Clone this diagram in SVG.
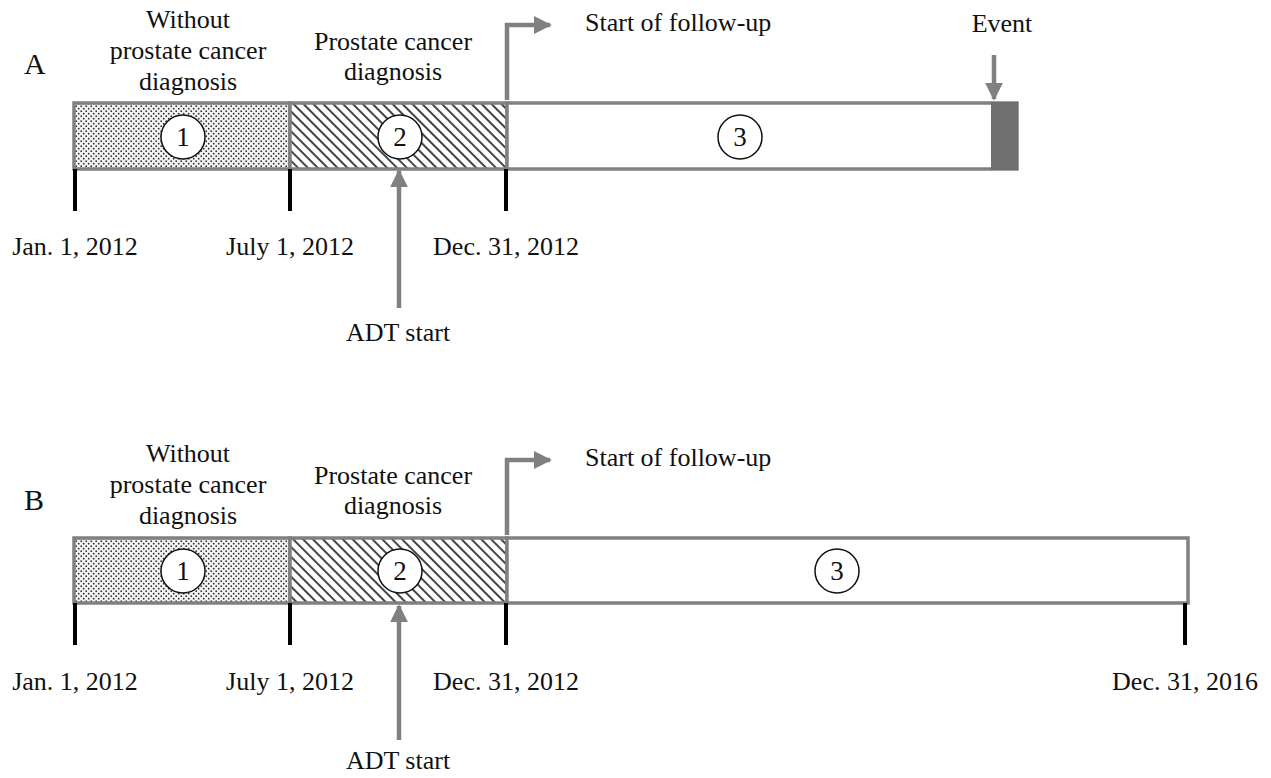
<svg xmlns="http://www.w3.org/2000/svg" width="1271" height="778" viewBox="0 0 1271 778">
<defs>
<pattern id="dots" width="5" height="5" patternUnits="userSpaceOnUse">
<rect width="5" height="5" fill="#f2f2f2"/>
<circle cx="1.2" cy="1.2" r="0.85" fill="#2a2a2a"/>
<circle cx="3.7" cy="3.7" r="0.85" fill="#2a2a2a"/>
</pattern>
<pattern id="hatch" width="7" height="7" patternUnits="userSpaceOnUse" patternTransform="rotate(-45)">
<rect width="7" height="7" fill="#fff"/>
<line x1="1" y1="0" x2="1" y2="7" stroke="#444" stroke-width="2"/>
</pattern>
<marker id="ah" viewBox="0 0 10 10" refX="9" refY="5" markerWidth="4" markerHeight="4" markerUnits="strokeWidth" orient="auto">
<path d="M0,0 L10,5 L0,10 Z" fill="#808080"/>
</marker>
</defs>
<style>
text{font-family:"Liberation Serif","Times New Roman",serif;fill:#111;font-size:26px}
.c{text-anchor:middle}
.lbl{font-size:30px}
.bar{stroke:#808080;stroke-width:3.5}
.tick{stroke:#000;stroke-width:4}
.arr{stroke:#808080;stroke-width:4.5;fill:none}
.num{fill:#fff;stroke:#111;stroke-width:1.5}
.n{font-size:27px}
</style>

<!-- Panel A -->
<g id="panelA">
<text class="lbl" x="24" y="74">A</text>
<g id="A-seg1">
<rect class="bar" x="74" y="103" width="216" height="66" fill="url(#dots)"/>
<circle class="num" cx="183" cy="137" r="22"/>
<text class="c n" x="183" y="146">1</text>
<text class="c" x="188" y="28">Without</text>
<text class="c" x="188" y="59">prostate cancer</text>
<text class="c" x="188" y="90">diagnosis</text>
</g>
<g id="A-seg2">
<rect class="bar" x="290" y="103" width="217" height="66" fill="url(#hatch)"/>
<circle class="num" cx="400" cy="137" r="22"/>
<text class="c n" x="400" y="146">2</text>
<text class="c" x="393" y="50">Prostate cancer</text>
<text class="c" x="393" y="80">diagnosis</text>
</g>
<g id="A-seg3">
<rect class="bar" x="507" y="103" width="510" height="66" fill="#fff"/>
<rect x="992" y="103" width="25" height="66" fill="#707070" stroke="#707070" stroke-width="2"/>
<circle class="num" cx="740" cy="137" r="22"/>
<text class="c n" x="740" y="146">3</text>
<text x="585" y="31">Start of follow-up</text>
<text class="c" x="1002" y="32">Event</text>
<text class="c" x="398" y="341">ADT start</text>
</g>
<g id="A-dates">
<text class="c" x="75" y="255">Jan. 1, 2012</text>
<text class="c" x="290" y="255">July 1, 2012</text>
<text class="c" x="506" y="255">Dec. 31, 2012</text>
</g>
</g>

<!-- Panel B -->
<g id="panelB">
<text class="lbl" x="24" y="510">B</text>
<g id="B-seg1">
<rect class="bar" x="74" y="538" width="216" height="65" fill="url(#dots)"/>
<circle class="num" cx="183" cy="571" r="22"/>
<text class="c n" x="183" y="580">1</text>
<text class="c" x="188" y="462">Without</text>
<text class="c" x="188" y="493">prostate cancer</text>
<text class="c" x="188" y="524">diagnosis</text>
</g>
<g id="B-seg2">
<rect class="bar" x="290" y="538" width="217" height="65" fill="url(#hatch)"/>
<circle class="num" cx="400" cy="571" r="22"/>
<text class="c n" x="400" y="580">2</text>
<text class="c" x="393" y="484">Prostate cancer</text>
<text class="c" x="393" y="514">diagnosis</text>
</g>
<g id="B-seg3">
<rect class="bar" x="507" y="538" width="681" height="65" fill="#fff"/>
<circle class="num" cx="837" cy="571" r="22"/>
<text class="c n" x="837" y="580">3</text>
<text x="585" y="466">Start of follow-up</text>
<text class="c" x="398" y="769">ADT start</text>
</g>
<g id="B-dates">
<text class="c" x="75" y="690">Jan. 1, 2012</text>
<text class="c" x="290" y="690">July 1, 2012</text>
<text class="c" x="506" y="690">Dec. 31, 2012</text>
<text class="c" x="1185" y="690">Dec. 31, 2016</text>
</g>
</g>

<g id="connectors">
<line class="tick" x1="75" y1="169" x2="75" y2="211"/>
<line class="tick" x1="290" y1="169" x2="290" y2="211"/>
<line class="tick" x1="506" y1="169" x2="506" y2="211"/>
<line class="tick" x1="75" y1="603" x2="75" y2="645"/>
<line class="tick" x1="290" y1="603" x2="290" y2="645"/>
<line class="tick" x1="506" y1="603" x2="506" y2="645"/>
<line class="tick" x1="1185" y1="603" x2="1185" y2="645"/>
<path class="arr" d="M507,100 V25 H550" marker-end="url(#ah)"/>
<path class="arr" d="M507,535 V460 H550" marker-end="url(#ah)"/>
<path class="arr" d="M399,308 V171" marker-end="url(#ah)"/>
<path class="arr" d="M399,740 V606" marker-end="url(#ah)"/>
<path class="arr" d="M994,55 V99" marker-end="url(#ah)"/>
</g>
</svg>
